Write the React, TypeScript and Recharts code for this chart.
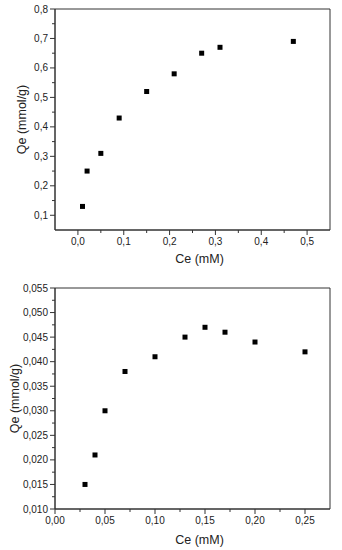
import React from "react";
import {
  ScatterChart,
  Scatter,
  XAxis,
  YAxis,
  ReferenceArea,
} from "recharts";

// top panel
const topCe = [0.01, 0.02, 0.05, 0.09, 0.15, 0.21, 0.27, 0.31, 0.47];
const topQe = [0.13, 0.25, 0.31, 0.43, 0.52, 0.58, 0.65, 0.67, 0.69];
const topXMajor = [0, 0.1, 0.2, 0.3, 0.4, 0.5];
const topXMinor = [0.05, 0.15, 0.25, 0.35, 0.45];
const topYMajor = [0.1, 0.2, 0.3, 0.4, 0.5, 0.6, 0.7, 0.8];
const topYMinor = [0.15, 0.25, 0.35, 0.45, 0.55, 0.65, 0.75];

// bottom panel
const botCe = [0.03, 0.04, 0.05, 0.07, 0.1, 0.13, 0.15, 0.17, 0.2, 0.25];
const botQe = [0.015, 0.021, 0.03, 0.038, 0.041, 0.045, 0.047, 0.046, 0.044, 0.042];
const botXMajor = [0, 0.05, 0.1, 0.15, 0.2, 0.25];
const botXMinor = [0.025, 0.075, 0.125, 0.175, 0.225];
const botYMajor = [0.01, 0.015, 0.02, 0.025, 0.03, 0.035, 0.04, 0.045, 0.05, 0.055];
const botYMinor = [0.0125, 0.0175, 0.0225, 0.0275, 0.0325, 0.0375, 0.0425, 0.0475, 0.0525];

const AXIS = "#333";
const TEXT = "#222";
const MARK = 5;

const isMajor = (v: number, majors: number[]) =>
  majors.some((m) => Math.abs(m - v) < 1e-9);

const fmt = (v: number, digits: number) => v.toFixed(digits).replace(".", ",");

const XTick = (props: any) => {
  const { x, y, payload, majors, digits } = props;
  const major = isMajor(payload.value, majors);
  return (
    <g>
      <line x1={x} y1={y} x2={x} y2={y + (major ? 5 : 3)} stroke={AXIS} />
      {major && (
        <text x={x} y={y + 15} textAnchor="middle" fontSize={10} fill={TEXT}>
          {fmt(payload.value, digits)}
        </text>
      )}
    </g>
  );
};

const YTick = (props: any) => {
  const { x, y, payload, majors, digits } = props;
  const major = isMajor(payload.value, majors);
  return (
    <g>
      <line x1={x - (major ? 5 : 3)} y1={y} x2={x} y2={y} stroke={AXIS} />
      {major && (
        <text x={x - 7} y={y + 3.5} textAnchor="end" fontSize={10} fill={TEXT}>
          {fmt(payload.value, digits)}
        </text>
      )}
    </g>
  );
};

const SquareDot = (p: any) => (
  <rect x={p.cx - MARK / 2} y={p.cy - MARK / 2} width={MARK} height={MARK} fill="#000" />
);

const topData = topCe.map((x, i) => ({ x, y: topQe[i] }));
const botData = botCe.map((x, i) => ({ x, y: botQe[i] }));

const titleStyle = { fontSize: 12.5, fill: TEXT };

export default function App() {
  return (
    <div
      style={{
        position: "absolute",
        left: 0,
        top: 0,
        width: 342,
        height: 550,
        background: "#fff",
        fontFamily: "'Liberation Sans', Arial, sans-serif",
      }}
    >
      <ScatterChart width={342} height={275} margin={{ top: 9, right: 12, bottom: 0, left: 0 }}>
        <XAxis
          type="number"
          dataKey="x"
          domain={[-0.05, 0.55]}
          ticks={[...topXMajor, ...topXMinor].sort((a, b) => a - b)}
          interval={0}
          height={45}
          tickSize={0}
          tickMargin={0}
          tickLine={false}
          axisLine={{ stroke: AXIS }}
          tick={(p: any) => <XTick {...p} majors={topXMajor} digits={1} />}
          label={{ value: "Ce (mM)", position: "insideBottom", offset: 12, dx: 7, style: titleStyle }}
        />
        <YAxis
          type="number"
          dataKey="y"
          domain={[0.05, 0.8]}
          ticks={[...topYMajor, ...topYMinor].sort((a, b) => a - b)}
          interval={0}
          width={55}
          tickSize={0}
          tickMargin={0}
          tickLine={false}
          axisLine={{ stroke: AXIS }}
          tick={(p: any) => <YTick {...p} majors={topYMajor} digits={1} />}
          label={{
            value: "Qe (mmol/g)",
            angle: -90,
            position: "insideLeft",
            offset: 22,
            style: { ...titleStyle, textAnchor: "middle" },
          }}
        />
        <ReferenceArea x1={-0.05} x2={0.55} y1={0.05} y2={0.8} fill="none" stroke={AXIS} />
        <Scatter data={topData} shape={SquareDot} isAnimationActive={false} />
      </ScatterChart>

      <ScatterChart width={342} height={275} margin={{ top: 13, right: 12, bottom: 0, left: 0 }}>
        <XAxis
          type="number"
          dataKey="x"
          domain={[0, 0.275]}
          ticks={[...botXMajor, ...botXMinor].sort((a, b) => a - b)}
          interval={0}
          height={41}
          tickSize={0}
          tickMargin={0}
          tickLine={false}
          axisLine={{ stroke: AXIS }}
          tick={(p: any) => <XTick {...p} majors={botXMajor} digits={2} />}
          label={{ value: "Ce (mM)", position: "insideBottom", offset: 6, dx: 7, style: titleStyle }}
        />
        <YAxis
          type="number"
          dataKey="y"
          domain={[0.01, 0.055]}
          ticks={[...botYMajor, ...botYMinor].sort((a, b) => a - b)}
          interval={0}
          width={55}
          tickSize={0}
          tickMargin={0}
          tickLine={false}
          axisLine={{ stroke: AXIS }}
          tick={(p: any) => <YTick {...p} majors={botYMajor} digits={3} />}
          label={{
            value: "Qe (mmol/g)",
            angle: -90,
            position: "insideLeft",
            offset: 15,
            style: { ...titleStyle, textAnchor: "middle" },
          }}
        />
        <ReferenceArea x1={0} x2={0.275} y1={0.01} y2={0.055} fill="none" stroke={AXIS} />
        <Scatter data={botData} shape={SquareDot} isAnimationActive={false} />
      </ScatterChart>
    </div>
  );
}
